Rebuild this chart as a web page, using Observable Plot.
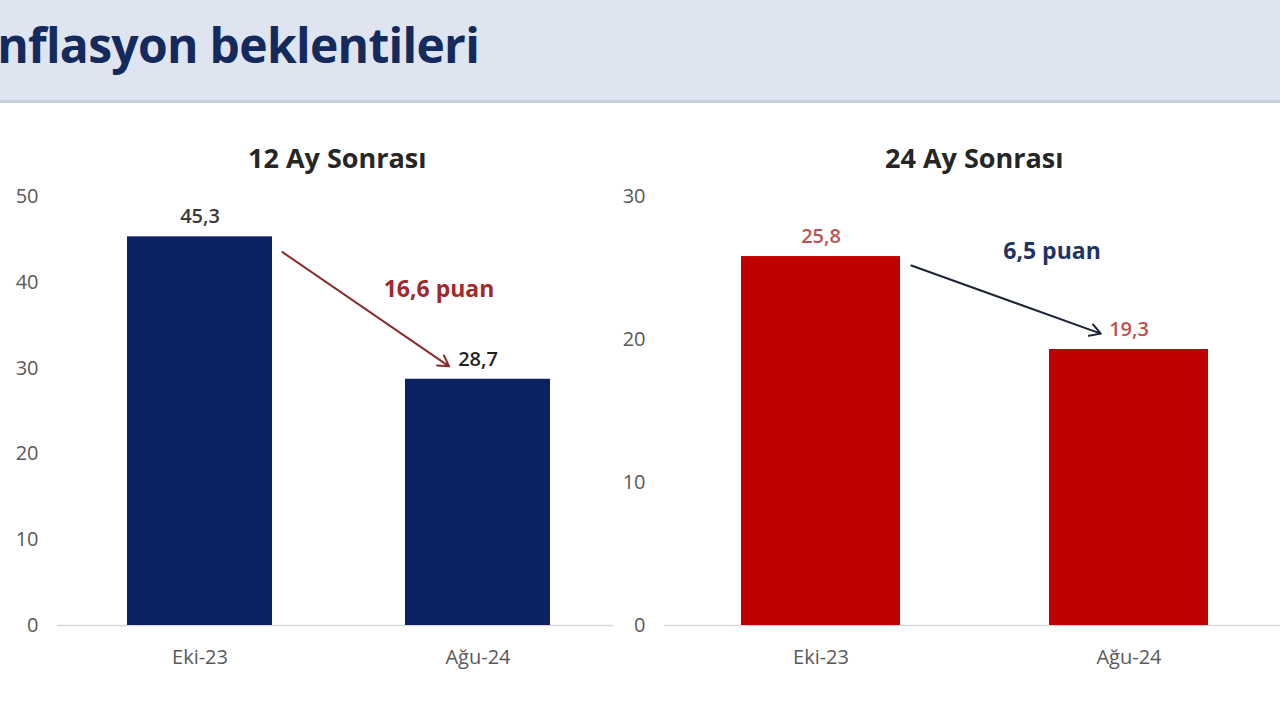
<!DOCTYPE html>
<html>
<head>
<meta charset="utf-8">
<script src="https://cdn.jsdelivr.net/npm/d3@7"></script>
<script src="https://cdn.jsdelivr.net/npm/@observablehq/plot@0.6"></script>
<style>
  html, body { margin: 0; padding: 0; background: #fff; }
  body { width: 1280px; height: 720px; position: relative; overflow: hidden; font-family: "Open Sans", sans-serif; }
  #header { position: absolute; left: 0; top: 0; width: 1280px; height: 100px; background: #dee5f0; border-bottom: 3px solid #c9cfd9; overflow: hidden; }
  #header h1 { position: absolute; left: -29px; top: 21px; margin: 0; font: 700 48px/1 "Open Sans", sans-serif; color: #142a5c; letter-spacing: -0.7px; white-space: nowrap; }
  .ptitle { position: absolute; top: 144px; font: 700 27px/1 "Open Sans", sans-serif; color: #262626; text-align: center; white-space: nowrap; }
  #p1, #p2 { position: absolute; top: 190px; }
  #p1 { left: 0; }
  #p2 { left: 616px; }
  svg { overflow: visible; }
</style>
</head>
<body>
<div id="header"><h1>Enflasyon beklentileri</h1></div>
<div class="ptitle" id="t1"></div>
<div class="ptitle" id="t2"></div>
<div id="p1"></div>
<div id="p2"></div>
<script>
// ---- data ----
const categories = ["Eki-23", "Ağu-24"];
const values12 = [45.3, 28.7];
const values24 = [25.8, 19.3];
const panelTitles = ["12 Ay Sonrası", "24 Ay Sonrası"];
const yTicks12 = [0, 10, 20, 30, 40, 50];
const yTicks24 = [0, 10, 20, 30];
// annotation anchors (in value units)
const arrowY12 = [50.1, 27.9];
const arrowY24 = [27.45, 19.7];
const labelY12 = [39.2];
const labelY24 = [26.15];

const fmt = v => v.toFixed(1).replace(".", ",");

function panel({values, ticks, domain, range, paddingInner, paddingOuter, width, marginLeft, marginRight,
                barColor, valueColors, deltaColor, arrowColor, arrowY, labelY, labelDx, insetStart, insetEnd}) {
  const data = categories.map((c, i) => ({cat: c, value: values[i]}));
  const delta = [{from: categories[0], to: categories[1], y1: arrowY[0], y2: arrowY[1],
                  ly: labelY[0], text: fmt(values[0] - values[1]) + " puan"}];
  return Plot.plot({
    width, height: 490,
    marginTop: 6, marginBottom: 55, marginLeft, marginRight,
    style: {fontFamily: "'Open Sans', sans-serif", fontSize: "20px", color: "#595959", background: "transparent"},
    x: {domain: categories, range, paddingInner, paddingOuter, tickSize: 0, tickPadding: 24, label: null},
    y: {domain, ticks, tickSize: 0, tickPadding: 19, label: null},
    marks: [
      Plot.ruleY([0], {stroke: "#d9d9d9", strokeWidth: 1.5}),
      Plot.barY(data, {x: "cat", y: "value", fill: barColor}),
      Plot.text(data, {x: "cat", y: "value", text: d => fmt(d.value), dy: -20,
                       fill: (d, i) => valueColors[i], fontSize: 20, fontWeight: 600}),
      Plot.arrow(delta, {x1: "from", y1: "y1", x2: "to", y2: "y2", stroke: arrowColor, strokeWidth: 2,
                         headLength: 9, insetStart, insetEnd}),
      Plot.text(delta, {x: "to", y: "ly", text: "text", dx: labelDx, fill: deltaColor, fontSize: 23, fontWeight: 700})
    ]
  });
}

document.getElementById("t1").textContent = panelTitles[0];
document.getElementById("t2").textContent = panelTitles[1];

const p1 = panel({
  values: values12, ticks: yTicks12, domain: [0, 50], range: [60, 617], paddingInner: 0.48, paddingOuter: 0.24,
  width: 616, marginLeft: 57, marginRight: 2,
  barColor: "#0b2161", valueColors: ["#3a3a3a", "#1f1f1f"], deltaColor: "#a3282c", arrowColor: "#8a2c2e",
  arrowY: arrowY12, labelY: labelY12, labelDx: -39, insetStart: 100, insetEnd: 35
});
document.getElementById("p1").appendChild(p1);

const p2 = panel({
  values: values24, ticks: yTicks24, domain: [0, 30], range: [48, 669], paddingInner: 0.484, paddingOuter: 0.25,
  width: 664, marginLeft: 48, marginRight: 0,
  barColor: "#c00000", valueColors: ["#c0504d", "#c0504d"], deltaColor: "#1f3461", arrowColor: "#1b2436",
  arrowY: arrowY24, labelY: labelY24, labelDx: -77, insetStart: 96, insetEnd: 30
});
document.getElementById("p2").appendChild(p2);

// center panel titles over plot areas
function placeTitle(id, cx) {
  const el = document.getElementById(id);
  el.style.left = (cx - el.offsetWidth / 2) + "px";
}
placeTitle("t1", 337);
placeTitle("t2", 974);
</script>
</body>
</html>
